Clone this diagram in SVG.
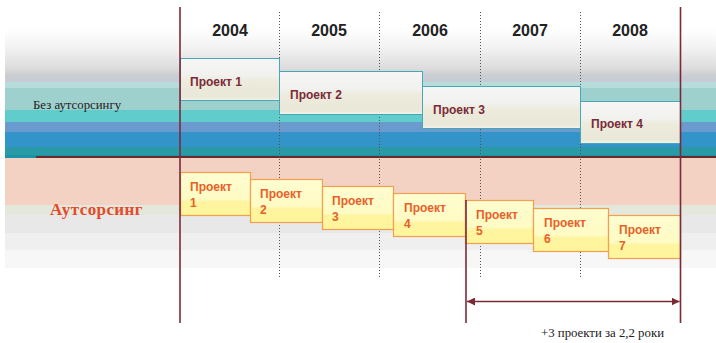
<svg xmlns="http://www.w3.org/2000/svg" width="716" height="343" viewBox="0 0 716 343">
<defs>
<linearGradient id="gTop" x1="0" y1="0" x2="0" y2="1">
<stop offset="0" stop-color="#ffffff"/>
<stop offset="0.35" stop-color="#f3f3f3"/>
<stop offset="0.75" stop-color="#dcdcdc"/>
<stop offset="0.88" stop-color="#cacdd2"/>
<stop offset="1" stop-color="#c6ccd6"/>
</linearGradient>
<linearGradient id="gBoxT" x1="0" y1="0" x2="0" y2="1">
<stop offset="0" stop-color="#f6f6f6"/>
<stop offset="0.4" stop-color="#f1f1ee"/>
<stop offset="0.55" stop-color="#ecebdc"/>
<stop offset="0.92" stop-color="#eae8d8"/>
<stop offset="1" stop-color="#f4f4ee"/>
</linearGradient>
<linearGradient id="gBoxB" x1="0" y1="0" x2="0" y2="1">
<stop offset="0" stop-color="#fffdd0"/>
<stop offset="0.62" stop-color="#fffbc4"/>
<stop offset="0.68" stop-color="#fff5a0"/>
<stop offset="1" stop-color="#fff59c"/>
</linearGradient>
<marker id="ah" viewBox="0 0 10 10" refX="10" refY="5" markerWidth="8" markerHeight="8" markerUnits="userSpaceOnUse" orient="auto-start-reverse">
<path d="M0,0 L10,5 L0,10 z" fill="#7a2a32"/>
</marker>
<style>
.yr{font-family:"Liberation Sans",Arial,sans-serif;font-weight:bold;font-size:16px;fill:#222;text-anchor:middle}
.pt{font-family:"Liberation Sans",Arial,sans-serif;font-weight:bold;font-size:12px;fill:#7a2a3a}
.pb{font-family:"Liberation Sans",Arial,sans-serif;font-weight:bold;font-size:12px;fill:#e8602a}
.bt{fill:url(#gBoxT);stroke:#48a6b6;stroke-width:1}
.bb{fill:url(#gBoxB);stroke:#f2a050;stroke-width:1.2}
.sol{stroke:#7a2a3a;stroke-width:1.6;fill:none}
.dot{stroke:#555;stroke-width:1;stroke-dasharray:1 2;fill:none}
.ser{font-family:"Liberation Serif","Times New Roman",serif;font-size:12.8px;fill:#222}
</style>
</defs>

<g id="background">
<rect x="5" y="28" width="711" height="54" fill="url(#gTop)"/>
<rect x="5" y="82" width="711" height="6" fill="#b6dcdc"/>
<rect x="5" y="88" width="711" height="22" fill="#9ed0ce"/>
<rect x="5" y="110" width="711" height="12" fill="#60cccc"/>
<rect x="5" y="122" width="711" height="10" fill="#6a9ace"/>
<rect x="5" y="132" width="711" height="15" fill="#3294c8"/>
<rect x="5" y="147" width="711" height="9" fill="#2a9aa6"/>
<rect x="5" y="155" width="711" height="3" fill="#1a92aa"/>
<rect x="5" y="158" width="711" height="47" fill="#f3d2c4"/>
<rect x="5" y="205" width="711" height="10" fill="#e4e8dc"/>
<rect x="5" y="215" width="711" height="18" fill="#e8e8e8"/>
<rect x="5" y="233" width="711" height="17" fill="#efefef"/>
<rect x="5" y="250" width="711" height="18" fill="#f7f7f7"/>
<line x1="36" y1="157" x2="716" y2="157" stroke="#6a2a2a" stroke-width="2"/>
</g>

<g id="grid">
<line class="dot" x1="279.5" y1="12" x2="279.5" y2="278"/>
<line class="dot" x1="379.5" y1="12" x2="379.5" y2="278"/>
<line class="dot" x1="480.5" y1="12" x2="480.5" y2="278"/>
<line class="dot" x1="580.5" y1="12" x2="580.5" y2="278"/>
</g>

<g id="years">
<text class="yr" x="230" y="36">2004</text>
<text class="yr" x="329" y="36">2005</text>
<text class="yr" x="430" y="36">2006</text>
<text class="yr" x="530" y="36">2007</text>
<text class="yr" x="630" y="36">2008</text>
</g>

<g id="label-without">
<text class="ser" x="33" y="109">Без аутсорсингу</text>
</g>
<g id="label-with">
<text x="50" y="215" font-family="'Liberation Serif','Times New Roman',serif" font-weight="bold" font-size="17" fill="#e8482a" letter-spacing="0.4">Аутсорсинг</text>
</g>

<g id="top-p1"><rect class="bt" x="180.5" y="58.5" width="99" height="42"/><text class="pt" x="190" y="86">Проект 1</text></g>
<g id="top-p2"><rect class="bt" x="279.5" y="71.5" width="143" height="43"/><text class="pt" x="290" y="99">Проект 2</text></g>
<g id="top-p3"><rect class="bt" x="422.5" y="86.5" width="158" height="42"/><text class="pt" x="433" y="114">Проект 3</text></g>
<g id="top-p4"><rect class="bt" x="580.5" y="101.5" width="100" height="42"/><text class="pt" x="591" y="128">Проект 4</text></g>

<g id="out-p1"><rect class="bb" x="180.5" y="172.5" width="70" height="43"/><text class="pb" x="190" y="191">Проект</text><text class="pb" x="190" y="207">1</text></g>
<g id="out-p2"><rect class="bb" x="250.5" y="179.5" width="72" height="43"/><text class="pb" x="260" y="198">Проект</text><text class="pb" x="260" y="214">2</text></g>
<g id="out-p3"><rect class="bb" x="322.5" y="186.5" width="71" height="43"/><text class="pb" x="332" y="205">Проект</text><text class="pb" x="332" y="221">3</text></g>
<g id="out-p4"><rect class="bb" x="393.5" y="193.5" width="72" height="43"/><text class="pb" x="404" y="212">Проект</text><text class="pb" x="404" y="228">4</text></g>
<g id="out-p5"><rect class="bb" x="465.5" y="200.5" width="68" height="43"/><text class="pb" x="476" y="219">Проект</text><text class="pb" x="476" y="235">5</text></g>
<g id="out-p6"><rect class="bb" x="533.5" y="208.5" width="75" height="43"/><text class="pb" x="544" y="227">Проект</text><text class="pb" x="544" y="243">6</text></g>
<g id="out-p7"><rect class="bb" x="608.5" y="215.5" width="72" height="43"/><text class="pb" x="619" y="234">Проект</text><text class="pb" x="619" y="250">7</text></g>

<g id="connectors">
<line class="sol" x1="180" y1="7" x2="180" y2="323"/>
<line class="sol" x1="680.5" y1="7" x2="680.5" y2="323"/>
<line class="sol" x1="466" y1="200" x2="466" y2="323"/>
<line x1="467" y1="301.5" x2="679.5" y2="301.5" stroke="#7a2a32" stroke-width="1.6" marker-start="url(#ah)" marker-end="url(#ah)"/>
</g>

<g id="note">
<text class="ser" x="541" y="337">+3 проекти за 2,2 роки</text>
</g>
</svg>
